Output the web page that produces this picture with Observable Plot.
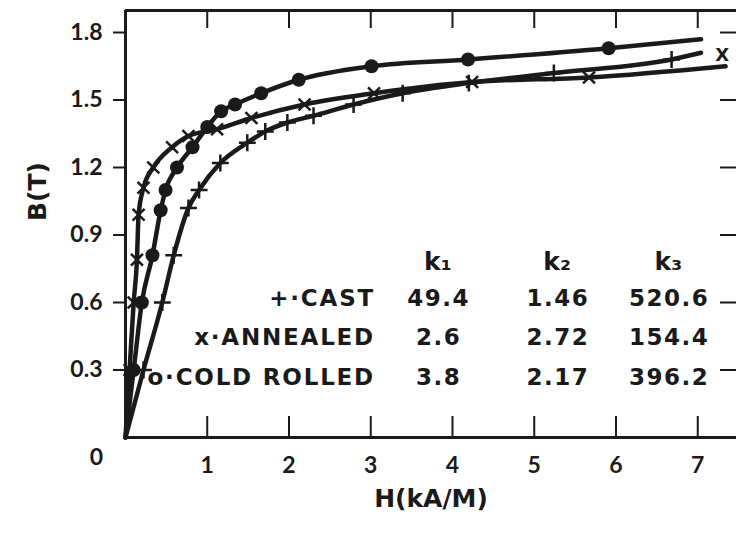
<!DOCTYPE html>
<html><head><meta charset="utf-8">
<script src="https://cdn.jsdelivr.net/npm/d3@7"></script>
<script src="https://cdn.jsdelivr.net/npm/@observablehq/plot@0.6"></script>
<style>
html,body{margin:0;padding:0;background:#fff;overflow:hidden;width:736px;height:534px;}
#chart svg{display:block}
</style></head><body><div id="chart"></div>
<script>
// ---- data ----
const castH = [0, 0.22, 0.45, 0.59, 0.77, 0.90, 1.16, 1.49, 1.71, 1.98, 2.30, 2.79, 3.39, 4.20, 5.24, 6.68, 7.04];
const castB = [0, 0.30, 0.60, 0.81, 1.02, 1.10, 1.22, 1.31, 1.36, 1.40, 1.43, 1.48, 1.53, 1.575, 1.62, 1.68, 1.71];
const annealedH = [0, 0.05, 0.10, 0.14, 0.16, 0.22, 0.34, 0.57, 0.77, 1.12, 1.54, 2.19, 3.04, 4.24, 5.67, 7.34];
const annealedB = [0, 0.30, 0.60, 0.79, 0.99, 1.11, 1.20, 1.29, 1.34, 1.37, 1.42, 1.48, 1.53, 1.58, 1.60, 1.65];
const coldH = [0, 0.10, 0.20, 0.33, 0.43, 0.49, 0.63, 0.82, 1.00, 1.17, 1.34, 1.66, 2.12, 3.01, 4.19, 5.91, 7.04];
const coldB = [0, 0.30, 0.60, 0.81, 1.01, 1.10, 1.20, 1.29, 1.38, 1.45, 1.48, 1.53, 1.59, 1.65, 1.68, 1.73, 1.77];

const materials = ["+·CAST", "x·ANNEALED", "o·COLD ROLLED"];
const kHeaders = ["k₁", "k₂", "k₃"];
const k1 = ["49.4", "2.6", "3.8"];
const k2 = ["1.46", "2.72", "2.17"];
const k3 = ["520.6", "154.4", "396.2"];

const xTicks = [1, 2, 3, 4, 5, 6, 7];
const xZeroLabel = ["0"];
const yTicks = [0.3, 0.6, 0.9, 1.2, 1.5, 1.8];
const endMark = ["X"];
const yLabel = "B(T)";
const xLabel = "H(kA/M)";

// ---- layout ----
const W = 736, HT = 534;
const mL = 125, mR = 0, mT = 10, mB = 97;
const frameW = W - mL - mR, frameH = HT - mT - mB;
const xMax = frameW / 81.75;
const yMax = frameH / 225;
const ink = "#1a1a1a";
const font = "DejaVu Sans";
const tickFont = "Lato";
const labelSpacing = 1.8, numSpacing = 1.5;

const pts = (H, B) => H.map((h, i) => ({h, b: B[i]}));
const cast = pts(castH, castB), annealed = pts(annealedH, annealedB), cold = pts(coldH, coldB);
const inner = a => a.slice(1, -1);

// table placement (in data units)
const labelX = 3.03, colX = [3.82, 5.28, 6.64];
const headerY = 0.778, rowY = [0.618, 0.444, 0.267];
const labelCells = materials.map((t, i) => ({x: labelX, y: rowY[i], t}));
const numCells = [];
[k1, k2, k3].forEach((col, j) => col.forEach((t, i) => numCells.push({x: colX[j], y: rowY[i], t})));
const headCells = kHeaders.map((t, j) => ({x: colX[j], y: headerY, t}));
const endCells = endMark.map(t => ({x: annealedH[annealedH.length - 1] - 0.04, y: annealedB[annealedB.length - 1] + 0.05, t}));

const txt = {fill: ink, fontFamily: font, fontWeight: "bold"};
const tk = {fill: ink, fontFamily: tickFont, fontWeight: "bold", fontSize: 23};

const chart = Plot.plot({
  width: W, height: HT,
  marginLeft: mL, marginRight: mR, marginTop: mT, marginBottom: mB,
  x: {domain: [0, xMax], label: null},
  y: {domain: [0, yMax], label: null},
  style: {fontFamily: font, fontWeight: "bold", fontSize: "21px", color: ink, background: "#fff"},
  marks: [
    Plot.tickX(xTicks, {x: d => d, insetTop: frameH - 21, stroke: ink, strokeWidth: 2}),
    Plot.tickX(xTicks, {x: d => d, insetBottom: frameH - 18, stroke: ink, strokeWidth: 2}),
    Plot.tickY(yTicks, {y: d => d, insetLeft: -12, insetRight: frameW, stroke: ink, strokeWidth: 2}),
    Plot.tickY(yTicks, {y: d => d, insetLeft: frameW - 16, stroke: ink, strokeWidth: 2}),
    Plot.axisX(xTicks, {tickSize: 0, tickPadding: 19, label: null, ...tk}),
    Plot.axisY(yTicks, {tickSize: 0, tickPadding: 23, tickFormat: d => d.toFixed(1), label: null, ...tk}),
    Plot.text(xZeroLabel, {x: () => 0, frameAnchor: "bottom", dx: -29, dy: 27, text: d => d, ...tk}),
    Plot.ruleX([0], {stroke: ink, strokeWidth: 3}),
    Plot.ruleY([0, yMax], {stroke: ink, strokeWidth: 3}),
    Plot.line(cast, {x: "h", y: "b", curve: "monotone-x", stroke: ink, strokeWidth: 4.5}),
    Plot.line(annealed, {x: "h", y: "b", curve: "monotone-x", stroke: ink, strokeWidth: 4.5}),
    Plot.line(cold, {x: "h", y: "b", curve: "monotone-x", stroke: ink, strokeWidth: 4.5}),
    Plot.dot(inner(cold), {x: "h", y: "b", symbol: "circle", r: 7, fill: ink}),
    Plot.dot(inner(cast), {x: "h", y: "b", symbol: "plus", r: 5.5, stroke: ink, strokeWidth: 2.5}),
    Plot.dot(inner(annealed), {x: "h", y: "b", symbol: "times", r: 5.5, stroke: ink, strokeWidth: 2.5}),
    Plot.text(labelCells, {x: "x", y: "y", text: "t", textAnchor: "end", fontSize: 23, dx: labelSpacing, ...txt}),
    Plot.text(numCells, {x: "x", y: "y", text: "t", textAnchor: "middle", fontSize: 23, dx: numSpacing / 2, ...txt}),
    Plot.text(headCells, {x: "x", y: "y", text: "t", textAnchor: "middle", fontSize: 25, ...txt}),
    Plot.text(endCells, {x: "x", y: "y", text: "t", textAnchor: "middle", fontSize: 18, ...txt}),
    Plot.text([yLabel], {frameAnchor: "left", dx: -88, dy: -3, rotate: -90, text: d => d, fontSize: 25, ...txt}),
    Plot.text([xLabel], {frameAnchor: "bottom", dx: 0, dy: 69, text: d => d, fontSize: 25, ...txt})
  ]
});
// letter spacing of the inset table text (not a Plot text option)
d3.select(chart).selectAll("text")
  .filter(function () { return materials.includes(this.textContent); })
  .style("letter-spacing", labelSpacing + "px");
d3.select(chart).selectAll("text")
  .filter(function () { return k1.concat(k2, k3).includes(this.textContent); })
  .style("letter-spacing", numSpacing + "px");
document.getElementById("chart").appendChild(chart);
</script></body></html>
